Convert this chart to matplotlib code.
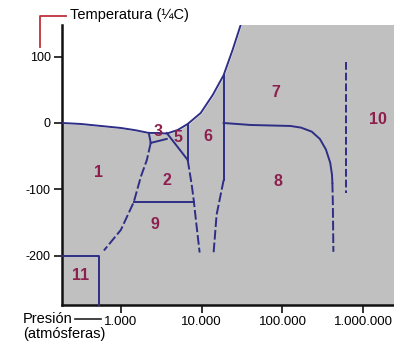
import numpy as np
import matplotlib
matplotlib.use("Agg")
import matplotlib.pyplot as plt
from matplotlib.lines import Line2D

plt.rcParams['font.family'] = ['Liberation Sans', 'DejaVu Sans']

# ---- data (pressure in atm, temperature in C) ----
# liquid / ice boundary (upper white region is liquid water)
liq_p = [187, 321, 566, 1000, 1531, 2217, 2945, 3697, 5060, 6714, 9727, 13680, 18700, 24150, 30290]
liq_t = [0, -1.5, -4.5, -7.5, -11, -15, -15, -16, -10.5, -1.5, 15, 42, 72, 110, 147]

# ice I / ice III-II-IX boundary
b13_p = [2217, 2344]
b13_t = [-15, -30]
b12_p = [2344, 2094, 1766, 1446, 1000, 617]
b12_t = [-30, -56, -81, -119, -161, -192]

# ice III / ice II boundary
b32_p = [2344, 3697]
b32_t = [-30, -24]
# ice V / ice II diagonal
b52_p = [3697, 6714]
b52_t = [-15, -55.6]
# ice V / ice VI vertical
b56_p = [6714, 6714]
b56_t = [-1.5, -55.6]
# ice II,IX / ice VI (dashed)
b26_p = [6714, 7530, 7970, 8670, 9440]
b26_t = [-55.6, -93, -116, -156, -195]
# ice II / ice IX horizontal
b29_p = [1446, 7970]
b29_t = [-119, -119]
# ice VI / ice VII,VIII
b67_p = [18700, 18700]
b67_t = [72, -86]
b68_p = [18700, 17180, 15310, 14060]
b68_t = [-86, -108, -138, -195]
# ice VII / ice VIII
b78_p = [18700, 40270, 125600, 170000, 230000, 290000, 345000, 390000, 410000, 414400]
b78_t = [0, -3, -4.5, -7, -13, -24, -40, -60, -78, -90]
b78d_p = [414400, 420000, 426600]
b78d_t = [-90, -120, -194]
# ice X limit (dashed)
b10_p = [616600, 616600]
b10_t = [92, -105]
# ice XI box
b11_p = [187, 535, 535]
b11_t = [-200, -200, -274]

region_names = ['1', '2', '3', '5', '6', '7', '8', '9', '10', '11']
region_p = [535, 3700, 2864, 5060, 11860, 82000, 86800, 2630, 1531000, 321]
region_t = [-74, -86, -13.5, -22.6, -21, 46.6, -88.7, -153, 4.5, -230]

yticks = [100, 0, -100, -200]
ytick_labels = ['100', '0', '-100', '-200']
xticks = [1e3, 1e4, 1e5, 1e6]
xtick_labels = ['1.000', '10.000', '100.000', '1.000.000']

# ---- figure ----
W, H = 394, 346
fig = plt.figure(figsize=(W / 100, H / 100), dpi=100)
ax = fig.add_axes([62 / W, 1 - 305 / H, (394 - 62) / W, (305 - 25) / H])
ax.set_xscale('log')
ax.set_xlim(187, 10 ** 6.38)
ax.set_ylim(-274, 147.5)
ax.set_facecolor('#c0c0c0')

ax.fill_between(liq_p, liq_t, 200, color='white', zorder=1)

lc = '#2e2e86'
lw = 1.4
dash = (0, (5, 1.5))
ax.plot(liq_p, liq_t, color=lc, lw=lw, zorder=3)
ax.plot(b13_p, b13_t, color=lc, lw=lw, zorder=3)
ax.plot(b12_p, b12_t, color=lc, lw=lw, ls=dash, zorder=3)
ax.plot(b32_p, b32_t, color=lc, lw=lw, zorder=3)
ax.plot(b52_p, b52_t, color=lc, lw=lw, zorder=3)
ax.plot(b56_p, b56_t, color=lc, lw=lw, zorder=3)
ax.plot(b26_p, b26_t, color=lc, lw=lw, ls=dash, zorder=3)
ax.plot(b29_p, b29_t, color=lc, lw=lw, zorder=3)
ax.plot(b67_p, b67_t, color=lc, lw=lw, zorder=3)
ax.plot(b68_p, b68_t, color=lc, lw=lw, ls=dash, zorder=3)
ax.plot(b78_p, b78_t, color=lc, lw=lw, zorder=3)
ax.plot(b78d_p, b78d_t, color=lc, lw=lw, ls=dash, zorder=3)
ax.plot(b10_p, b10_t, color=lc, lw=lw, ls=(0, (4, 1.5)), zorder=3)
ax.plot(b11_p, b11_t, color=lc, lw=lw, zorder=3, clip_on=False)

for name, p, t in zip(region_names, region_p, region_t):
    ax.text(p, t, name, color='#8c1f4e', fontsize=11.5, fontweight='bold',
            ha='center', va='center', zorder=4)

for s in ['top', 'right']:
    ax.spines[s].set_visible(False)
for s in ['left', 'bottom']:
    ax.spines[s].set_linewidth(1.8)
    ax.spines[s].set_color('#111111')

ax.set_yticks(yticks)
ax.set_yticklabels(ytick_labels, fontsize=9)
ax.set_xticks(xticks)
ax.set_xticklabels(xtick_labels, fontsize=9.5)
ax.xaxis.set_minor_locator(matplotlib.ticker.NullLocator())
ax.tick_params(axis='both', length=6, width=1.2, color='#111111', pad=2)

# axis titles
fig.text(70 / W, 1 - 15 / H, 'Temperatura (¼C)', fontsize=10.5, va='center', ha='left')
fig.add_artist(Line2D([40 / W, 40 / W, 66 / W], [1 - 47 / H, 1 - 16 / H, 1 - 16 / H],
                      color='#c0303c', lw=1.3))
fig.text(23 / W, 1 - 319 / H, 'Presión', fontsize=10.5, va='center', ha='left')
fig.add_artist(Line2D([75 / W, 101 / W], [1 - 319 / H, 1 - 319 / H], color='#222222', lw=1.2))
fig.text(23 / W, 1 - 334 / H, '(atmósferas)', fontsize=10.5, va='center', ha='left')

fig.savefig('out.png', dpi=100)
